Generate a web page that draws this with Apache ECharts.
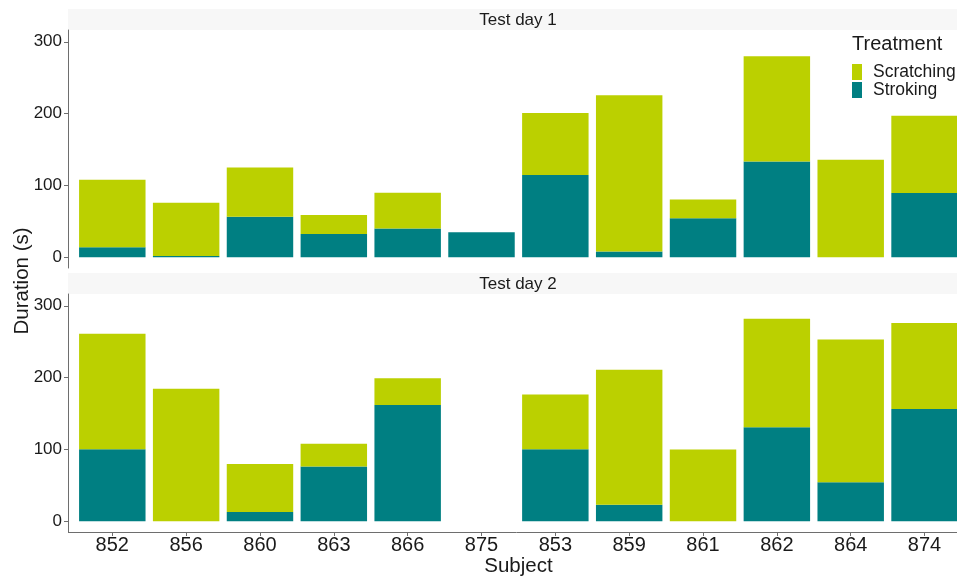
<!DOCTYPE html>
<html>
<head>
<meta charset="utf-8">
<script src="https://cdn.jsdelivr.net/npm/echarts@6/dist/echarts.min.js"></script>
<style>html,body{margin:0;padding:0;background:#fff;}#c{width:957px;height:579px;}</style>
</head>
<body>
<div id="c"></div>
<script>
var subjects = ['852','856','860','863','866','875','853','859','861','862','864','874'];
var day1Stroking   = [14, 2, 56.5, 32.5, 40, 35, 114.5, 8, 54.5, 133.5, 0, 89.5];
var day1Scratching = [94, 74, 68.5, 26.5, 50, 0, 86.5, 217.5, 26, 146.5, 136, 107.5];
var day2Stroking   = [100.5, 0, 13, 76.5, 162, 0, 100.5, 23, 0, 131, 54.5, 156.5];
var day2Scratching = [160.5, 184.5, 67, 31.5, 37, 0, 76, 188, 100, 151, 198.5, 119.5];
var yTicks = [0, 100, 200, 300];
var panelTitles = ['Test day 1', 'Test day 2'];

var FONT = '"Liberation Sans", Arial, sans-serif';
var LIME = '#BBD000';
var TEAL = '#007F82';
var TXT = '#1a1a1a';
var AX = '#6e6e6e';

// ggplot-like discrete expansion: 0.6 of a band on each side
var BAND = 73.84, PANEL_LEFT = 68, PAD = 0.1 * BAND;
var GRID_LEFT = PANEL_LEFT + PAD, GRID_W = BAND * subjects.length;

function xAxisFor(g, showAll){
  return {
    type: 'category', gridIndex: g, data: subjects, boundaryGap: true,
    axisLine: {show: showAll, onZero: false, lineStyle: {color: AX, width: 1}},
    axisTick: {show: showAll, length: 4, alignWithLabel: true, interval: 0, lineStyle: {color: AX}},
    axisLabel: {show: showAll, interval: 0, margin: 3, fontSize: 20, color: TXT, fontFamily: FONT},
    name: showAll ? 'Subject' : '', nameLocation: 'middle', nameGap: 23,
    nameTextStyle: {fontSize: 20.5, color: TXT, fontFamily: FONT}
  };
}
function yAxisFor(g){
  return {
    type: 'value', gridIndex: g, min: -14.8, max: 316.4, offset: PAD,
    splitLine: {show: false},
    axisLine: {show: true, onZero: false, lineStyle: {color: AX, width: 1}},
    axisTick: {show: true, length: 4, lineStyle: {color: AX}, customValues: yTicks},
    axisLabel: {customValues: yTicks, margin: 6, fontSize: 17, color: TXT, fontFamily: FONT}
  };
}
function bar(name, g, arr, color){
  return {
    name: name, type: 'bar', stack: 'd' + g, xAxisIndex: g, yAxisIndex: g,
    data: arr, barWidth: '90%', itemStyle: {color: color}, silent: true
  };
}

var chart = echarts.init(document.getElementById('c'), null, {renderer: 'canvas'});
chart.setOption({
  animation: false,
  backgroundColor: '#fff',
  grid: [
    {left: GRID_LEFT, top: 30, width: GRID_W, height: 238, outerBoundsMode: 'none', containLabel: false},
    {left: GRID_LEFT, top: 294, width: GRID_W, height: 238, outerBoundsMode: 'none', containLabel: false}
  ],
  xAxis: [xAxisFor(0, false), xAxisFor(1, true)],
  yAxis: [yAxisFor(0), yAxisFor(1)],
  title: {
    text: 'Treatment', left: 852, top: 34,
    textStyle: {fontSize: 20, fontWeight: 'normal', color: TXT, fontFamily: FONT},
    padding: 0
  },
  legend: {
    data: ['Scratching', 'Stroking'], orient: 'vertical', left: 852, top: 63,
    itemWidth: 10, itemHeight: 16, itemGap: 0, icon: 'rect', padding: 0,
    selectedMode: false,
    textStyle: {fontSize: 17.5, color: TXT, fontFamily: FONT, lineHeight: 16, padding: [0, 0, 0, 6]}
  },
  graphic: [
    {type: 'rect', shape: {x: PANEL_LEFT, y: 9, width: 900, height: 21}, style: {fill: '#F7F7F7'}, silent: true},
    {type: 'text', x: 518, y: 20, style: {text: panelTitles[0], fill: TXT, font: '17px ' + FONT, textAlign: 'center', textVerticalAlign: 'middle'}},
    {type: 'rect', shape: {x: PANEL_LEFT, y: 273, width: 900, height: 21}, style: {fill: '#F7F7F7'}, silent: true},
    {type: 'text', x: 518, y: 284, style: {text: panelTitles[1], fill: TXT, font: '17px ' + FONT, textAlign: 'center', textVerticalAlign: 'middle'}},
    {type: 'line', shape: {x1: PANEL_LEFT, y1: 532.5, x2: GRID_LEFT + 1, y2: 532.5}, style: {stroke: AX, lineWidth: 1}, silent: true},
    {type: 'text', x: 22, y: 281, rotation: Math.PI / 2, style: {text: 'Duration (s)', fill: TXT, font: '20.5px ' + FONT, textAlign: 'center', textVerticalAlign: 'middle'}}
  ],
  series: [
    bar('Stroking', 0, day1Stroking, TEAL),
    bar('Scratching', 0, day1Scratching, LIME),
    bar('Stroking', 1, day2Stroking, TEAL),
    bar('Scratching', 1, day2Scratching, LIME)
  ]
});
</script>
</body>
</html>
